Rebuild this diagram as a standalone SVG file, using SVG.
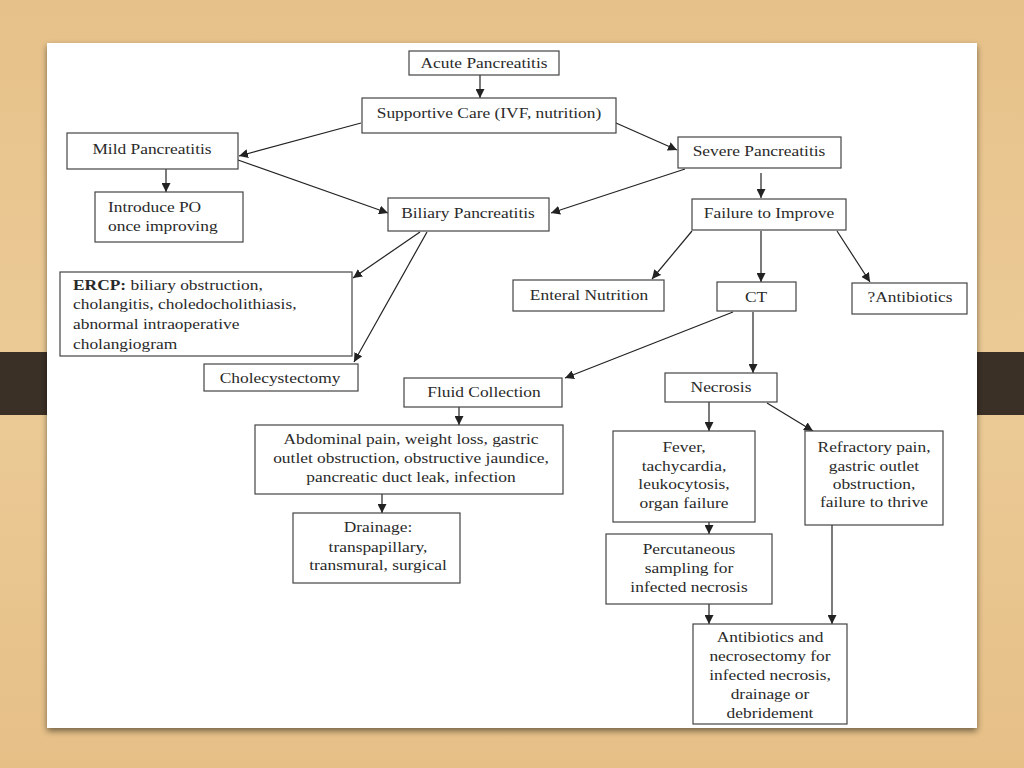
<svg xmlns="http://www.w3.org/2000/svg" width="1024" height="768" viewBox="0 0 1024 768">
<defs>
<linearGradient id="wood" x1="0" y1="0" x2="0" y2="1">
<stop offset="0" stop-color="#e6c189"/>
<stop offset="0.5" stop-color="#eccb97"/>
<stop offset="1" stop-color="#e5bf86"/>
</linearGradient>
<filter id="shadow" x="-5%" y="-5%" width="110%" height="115%">
<feGaussianBlur in="SourceAlpha" stdDeviation="3"/>
<feOffset dx="0" dy="3"/>
<feComponentTransfer><feFuncA type="linear" slope="0.5"/></feComponentTransfer>
<feMerge><feMergeNode/><feMergeNode in="SourceGraphic"/></feMerge>
</filter>
<marker id="ah" viewBox="0 0 10 10" refX="10" refY="5" markerWidth="9" markerHeight="9" markerUnits="userSpaceOnUse" orient="auto">
<path d="M0,0 L10,5 L0,10 z" fill="#222"/>
</marker>
</defs>
<style>
.box{fill:#fff;stroke:#444;stroke-width:1.2}
.t{font-family:"Liberation Serif","Times New Roman",serif;font-size:14.5px;fill:#2a2a2a}
.c{text-anchor:middle}
.ln{stroke:#222;stroke-width:1.2;fill:none;marker-end:url(#ah)}
</style>
<rect x="0" y="0" width="1024" height="768" fill="url(#wood)"/>
<rect x="0" y="352" width="47" height="63" fill="#3b3026"/>
<rect x="977" y="352" width="47" height="63" fill="#3b3026"/>
<rect x="47" y="43" width="930" height="685" fill="#fff" filter="url(#shadow)"/>

<g id="connectors">
<line class="ln" x1="480" y1="75" x2="480" y2="98"/>
<line class="ln" x1="361" y1="123" x2="239" y2="156"/>
<line class="ln" x1="238" y1="160" x2="388" y2="213"/>
<line class="ln" x1="616" y1="123" x2="677" y2="150"/>
<line class="ln" x1="685" y1="169" x2="551" y2="213"/>
<line class="ln" x1="761" y1="173" x2="761" y2="198"/>
<line class="ln" x1="166" y1="169" x2="166" y2="192"/>
<line class="ln" x1="420" y1="232" x2="353" y2="278"/>
<line class="ln" x1="427" y1="232" x2="354" y2="362"/>
<line class="ln" x1="692" y1="231" x2="652" y2="279"/>
<line class="ln" x1="761" y1="231" x2="761" y2="282"/>
<line class="ln" x1="837" y1="231" x2="870" y2="282"/>
<line class="ln" x1="733" y1="312" x2="565" y2="378"/>
<line class="ln" x1="753" y1="312" x2="753" y2="373"/>
<line class="ln" x1="459" y1="407" x2="459" y2="425"/>
<line class="ln" x1="382" y1="494" x2="382" y2="513"/>
<line class="ln" x1="709" y1="402" x2="709" y2="431"/>
<line class="ln" x1="767" y1="403" x2="813" y2="431"/>
<line class="ln" x1="709" y1="522" x2="709" y2="534"/>
<line class="ln" x1="709" y1="604" x2="709" y2="624"/>
<line class="ln" x1="832" y1="525" x2="832" y2="624"/>
</g>

<g id="acute"><rect class="box" x="409" y="51" width="150" height="24"/><text class="t c" transform="translate(484,68) scale(1.2,1)">Acute Pancreatitis</text></g>
<g id="supportive"><rect class="box" x="362" y="98" width="254" height="35"/><text class="t c" transform="translate(489,118) scale(1.2,1)">Supportive Care (IVF, nutrition)</text></g>
<g id="mild"><rect class="box" x="67" y="133" width="171" height="36"/><text class="t c" transform="translate(152,154) scale(1.2,1)">Mild Pancreatitis</text></g>
<g id="introduce"><rect class="box" x="95" y="192" width="148" height="50"/><text class="t" transform="translate(108,212) scale(1.2,1)">Introduce PO</text><text class="t" transform="translate(108,231) scale(1.2,1)">once improving</text></g>
<g id="biliary"><rect class="box" x="388" y="198" width="161" height="33"/><text class="t c" transform="translate(468,218) scale(1.2,1)">Biliary Pancreatitis</text></g>
<g id="severe"><rect class="box" x="678" y="137" width="163" height="31"/><text class="t c" transform="translate(759,156) scale(1.2,1)">Severe Pancreatitis</text></g>
<g id="failure"><rect class="box" x="692" y="199" width="154" height="31"/><text class="t c" transform="translate(769,218) scale(1.2,1)">Failure to Improve</text></g>
<g id="enteral"><rect class="box" x="513" y="280" width="151" height="31"/><text class="t c" transform="translate(589,300) scale(1.2,1)">Enteral Nutrition</text></g>
<g id="ct"><rect class="box" x="717" y="282" width="79" height="29"/><text class="t c" transform="translate(756,302) scale(1.2,1)">CT</text></g>
<g id="antibiotics-q"><rect class="box" x="852" y="283" width="115" height="31"/><text class="t c" transform="translate(910,302) scale(1.2,1)">?Antibiotics</text></g>
<g id="ercp"><rect class="box" x="60" y="272" width="292" height="84"/>
<text class="t" transform="translate(73,290) scale(1.2,1)"><tspan font-weight="bold">ERCP:</tspan>  biliary obstruction,</text>
<text class="t" transform="translate(73,309) scale(1.2,1)">cholangitis, choledocholithiasis,</text>
<text class="t" transform="translate(73,329) scale(1.2,1)">abnormal intraoperative</text>
<text class="t" transform="translate(73,349) scale(1.2,1)">cholangiogram</text></g>
<g id="cholecystectomy"><rect class="box" x="204" y="364" width="154" height="27"/><text class="t c" transform="translate(280,383) scale(1.2,1)">Cholecystectomy</text></g>
<g id="fluid"><rect class="box" x="404" y="378" width="158" height="29"/><text class="t c" transform="translate(484,397) scale(1.2,1)">Fluid Collection</text></g>
<g id="necrosis"><rect class="box" x="665" y="373" width="112" height="29"/><text class="t c" transform="translate(721,392) scale(1.2,1)">Necrosis</text></g>
<g id="abdominal"><rect class="box" x="255" y="425" width="308" height="69"/>
<text class="t c" transform="translate(411,444) scale(1.2,1)">Abdominal pain, weight loss, gastric</text>
<text class="t c" transform="translate(411,463) scale(1.2,1)">outlet obstruction, obstructive jaundice,</text>
<text class="t c" transform="translate(411,482) scale(1.2,1)">pancreatic duct leak, infection</text></g>
<g id="drainage"><rect class="box" x="293" y="513" width="167" height="70"/>
<text class="t c" transform="translate(378,532) scale(1.2,1)">Drainage:</text>
<text class="t c" transform="translate(378,552) scale(1.2,1)">transpapillary,</text>
<text class="t c" transform="translate(378,570) scale(1.2,1)">transmural, surgical</text></g>
<g id="fever"><rect class="box" x="613" y="431" width="142" height="91"/>
<text class="t c" transform="translate(684,452) scale(1.2,1)">Fever,</text>
<text class="t c" transform="translate(684,471) scale(1.2,1)">tachycardia,</text>
<text class="t c" transform="translate(684,489) scale(1.2,1)">leukocytosis,</text>
<text class="t c" transform="translate(684,508) scale(1.2,1)">organ failure</text></g>
<g id="refractory"><rect class="box" x="805" y="431" width="138" height="94"/>
<text class="t c" transform="translate(874,452) scale(1.2,1)">Refractory pain,</text>
<text class="t c" transform="translate(874,471) scale(1.2,1)">gastric outlet</text>
<text class="t c" transform="translate(874,489) scale(1.2,1)">obstruction,</text>
<text class="t c" transform="translate(874,507) scale(1.2,1)">failure to thrive</text></g>
<g id="percutaneous"><rect class="box" x="606" y="534" width="166" height="70"/>
<text class="t c" transform="translate(689,554) scale(1.2,1)">Percutaneous</text>
<text class="t c" transform="translate(689,573) scale(1.2,1)">sampling for</text>
<text class="t c" transform="translate(689,592) scale(1.2,1)">infected necrosis</text></g>
<g id="antibiotics"><rect class="box" x="693" y="624" width="154" height="100"/>
<text class="t c" transform="translate(770,642) scale(1.2,1)">Antibiotics and</text>
<text class="t c" transform="translate(770,661) scale(1.2,1)">necrosectomy for</text>
<text class="t c" transform="translate(770,680) scale(1.2,1)">infected necrosis,</text>
<text class="t c" transform="translate(770,699) scale(1.2,1)">drainage or</text>
<text class="t c" transform="translate(770,718) scale(1.2,1)">debridement</text></g>
</svg>
